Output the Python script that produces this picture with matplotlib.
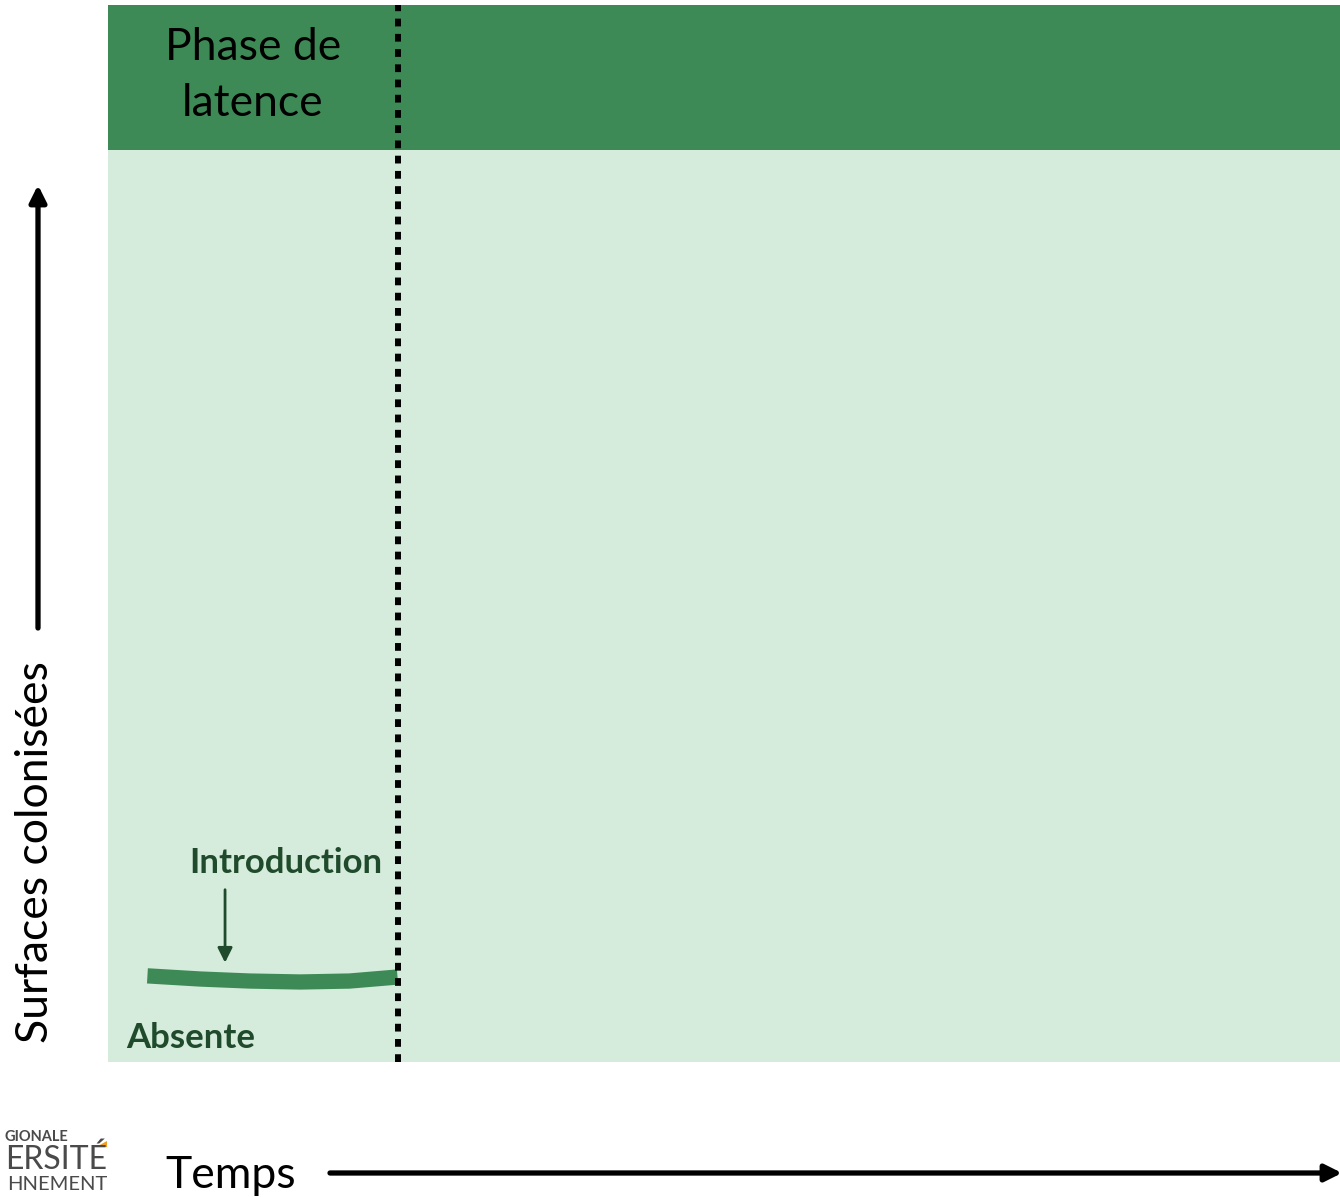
import matplotlib
matplotlib.use("Agg")
import matplotlib.pyplot as plt
from matplotlib.patches import FancyArrowPatch, Polygon

# ---- data (abstract units: time 0..100, surface 0..100) ----
curve_time = [3.2, 7.5, 11.5, 15.6, 19.6, 23.5]
curve_surface = [8.15, 7.85, 7.66, 7.57, 7.66, 8.04]
latency_end = 23.5
header_bottom = 86.3
phase_lines = ["Phase de", "latence"]
x_label = "Temps"
y_label = "Surfaces colonisées"
intro_label = "Introduction"
absent_label = "Absente"

W, H = 1340, 1197
fig = plt.figure(figsize=(W / 100, H / 100), dpi=100)
plt.rcParams['font.family'] = ['Lato', 'DejaVu Sans']

def fx(px):
    return px / W

def fy(py):
    return 1 - py / H

DARK = "#3e8a56"
LIGHT = "#d5ebdb"
TXT = "#1f4a2b"

ax = fig.add_axes([fx(108), fy(1062), fx(1340) - fx(108), fy(5) - fy(1062)])
ax.set_xlim(0, 100)
ax.set_ylim(0, 100)
ax.axis("off")
ax.axhspan(0, header_bottom, color=LIGHT, lw=0)
ax.axhspan(header_bottom, 100, color=DARK, lw=0)

ax.plot(curve_time, curve_surface, color=DARK, lw=11, solid_capstyle="butt",
        solid_joinstyle="round", zorder=3)
ax.axvline(latency_end, color="black", lw=4.3, linestyle=(0, (1.3, 1.25)),
           dash_capstyle="butt", zorder=4)

fig.text(fx(253), fy(48), phase_lines[0], ha="center", va="center",
         fontsize=32, color="black")
fig.text(fx(253), fy(103), phase_lines[1], ha="center", va="center",
         fontsize=32, color="black")
ax.text(14.4, 18.8, intro_label, ha="center", va="center", fontsize=25,
        fontweight="bold", color=TXT)
ax.text(1.5, 2.3, absent_label, ha="left", va="center", fontsize=25,
        fontweight="bold", color=TXT)
ax.annotate("", xy=(9.5, 9.4), xytext=(9.5, 16.3),
            arrowprops=dict(arrowstyle="-|>", color=TXT, lw=2,
                            mutation_scale=22, shrinkA=0, shrinkB=0))

# axis arrows and labels in figure coordinates
fig.add_artist(FancyArrowPatch((fx(38), fy(628)), (fx(38), fy(185)),
                               transform=fig.transFigure, arrowstyle="-|>",
                               mutation_scale=25, lw=3.8, color="black",
                               shrinkA=0, shrinkB=0))
fig.add_artist(FancyArrowPatch((fx(330), fy(1173)), (fx(1342), fy(1173)),
                               transform=fig.transFigure, arrowstyle="-|>",
                               mutation_scale=25, lw=3.8, color="black",
                               shrinkA=0, shrinkB=0))
fig.text(fx(36), fy(1043), y_label, rotation=90, ha="center", va="bottom",
         fontsize=32, color="black")
fig.text(fx(231), fy(1175), x_label, ha="center", va="center",
         fontsize=32, color="black")

# partially cropped logo text
fig.text(fx(68), fy(1137), "GIONALE", ha="right", va="center", fontsize=10.5,
         fontweight="bold", color="#4a4a4a")
fig.text(fx(107), fy(1160), "ERSITÉ", ha="right", va="center", fontsize=23,
         color="#4a4a4a")
fig.text(fx(107), fy(1185), "HNEMENT", ha="right", va="center", fontsize=14.5,
         color="#4a4a4a")
fig.add_artist(Polygon([(fx(96), fy(1147)), (fx(107), fy(1141)), (fx(107), fy(1147))],
                       closed=True, transform=fig.transFigure, color="#f0a020", lw=0))

fig.savefig("out.png", dpi=100)
